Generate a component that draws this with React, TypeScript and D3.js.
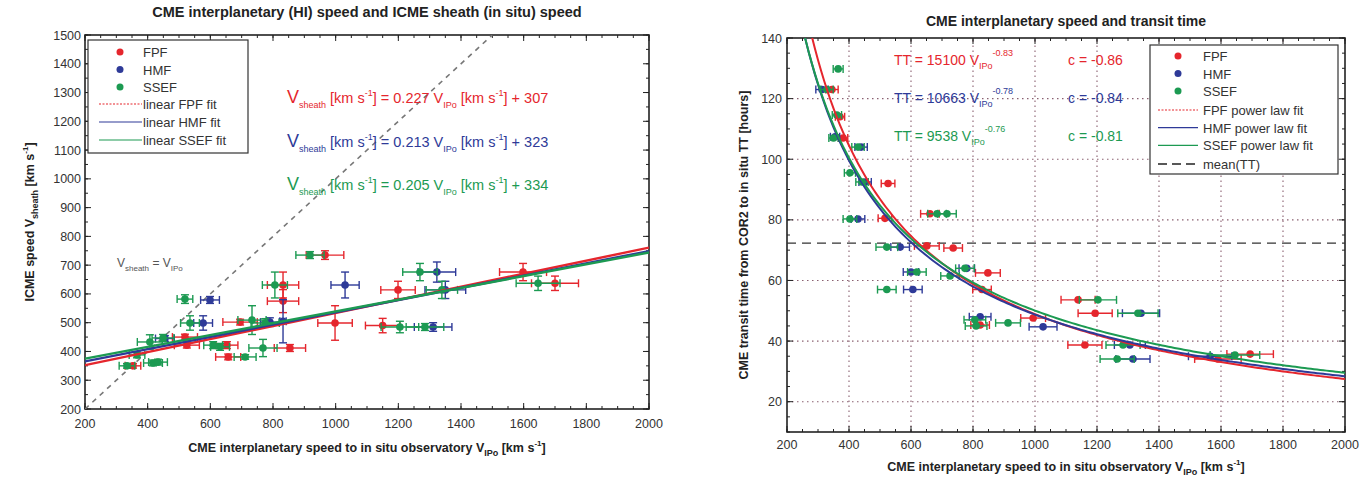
import React from 'react';
import * as d3 from 'd3';

const seriesNames = ['FPF', 'HMF', 'SSEF'];
const seriesColors = ['#e5262d', '#2e3a98', '#1c9a52'];

// left panel: [V_IPo, V_sheath, xerr, yerr]
const fpfSheath = [
  [353, 350, 25, 8], [519, 450, 40, 10], [525, 422, 40, 10], [653, 422, 35, 12],
  [657, 381, 40, 10], [695, 502, 55, 10], [832, 631, 50, 45], [832, 575, 50, 40],
  [854, 412, 50, 12], [966, 735, 60, 15], [998, 499, 55, 60], [1150, 490, 55, 25],
  [1199, 614, 55, 30], [1598, 676, 75, 30], [1700, 637, 75, 25],
];
const hmfSheath = [
  [455, 445, 30, 10], [599, 579, 30, 12], [577, 499, 30, 25], [790, 502, 30, 15],
  [832, 505, 10, 75], [1030, 631, 45, 45], [1323, 676, 60, 35], [1350, 614, 65, 30],
  [1311, 485, 60, 15],
];
const ssefSheath = [
  [334, 350, 25, 8], [366, 388, 25, 10], [417, 360, 30, 10], [433, 363, 30, 10],
  [407, 433, 40, 25], [449, 447, 35, 12], [519, 582, 25, 15], [535, 499, 30, 25],
  [609, 422, 30, 12], [631, 416, 30, 12], [711, 381, 35, 8], [733, 509, 45, 50],
  [775, 499, 45, 15], [768, 412, 45, 30], [806, 631, 40, 45], [918, 735, 45, 12],
  [1205, 485, 60, 20], [1269, 676, 55, 30], [1285, 485, 60, 12], [1339, 614, 50, 30],
  [1646, 637, 70, 25],
];
const sheathSlopes = [0.227, 0.213, 0.205];
const sheathIntercepts = [307, 323, 334];

// right panel: [V_IPo, TT, xerr]
const fpfTransit = [
  [345, 123, 20], [371, 114, 15], [381, 107, 15], [526, 92, 22], [516, 80.5, 22],
  [661, 82, 30], [651, 71.4, 40], [736, 70.7, 30], [848, 62.5, 40], [829, 57, 30],
  [823, 45.3, 30], [994, 47.6, 40], [1139, 53.6, 55], [1194, 49.2, 55], [1161, 38.7, 55],
  [1590, 34.1, 75], [1694, 35.7, 75],
];
const hmfTransit = [
  [313, 123, 20], [355, 107.4, 15], [439, 104, 20], [452, 92.5, 20], [429, 80.3, 22],
  [565, 71, 30], [600, 62.8, 25], [606, 57, 30], [780, 64, 25], [823, 48, 35],
  [1026, 44.7, 45], [1342, 49.2, 60], [1306, 38.7, 50], [1316, 34.1, 55], [1565, 35, 70],
];
const ssefTransit = [
  [365, 129.8, 16], [329, 123, 20], [361, 114.6, 15], [350, 107, 15], [429, 104, 20],
  [403, 95.5, 18], [442, 92.5, 20], [403, 80.3, 22], [684, 82, 30], [716, 82, 30],
  [522, 71, 35], [619, 62.8, 30], [726, 61.5, 30], [774, 64, 30], [522, 57, 30],
  [806, 47, 35], [810, 45, 35], [913, 46, 40], [1203, 53.6, 60], [1332, 49.2, 65],
  [1284, 38.7, 55], [1265, 34.1, 55], [1645, 35.4, 80],
];
const transitCoef = [15100, 10663, 9538];
const transitExp = [-0.83, -0.78, -0.76];
const transitCorr = [-0.86, -0.84, -0.81];
const meanTT = 72.3;

const speedTicks = [200, 400, 600, 800, 1000, 1200, 1400, 1600, 1800, 2000];
const sheathTicks = [200, 300, 400, 500, 600, 700, 800, 900, 1000, 1100, 1200, 1300, 1400, 1500];
const ttTicks = [20, 40, 60, 80, 100, 120, 140];

const font = '"Liberation Sans", Arial, Helvetica, sans-serif';

const xL = d3.scaleLinear().domain([200, 2000]).range([85, 649]);
const yL = d3.scaleLinear().domain([200, 1500]).range([409, 35]);
const xR = d3.scaleLinear().domain([200, 2000]).range([787, 1345]);
const yR = d3.scaleLinear().domain([10, 140]).range([432, 38]);

function Frame({ x, y, minorX, minorY, grid }) {
  const [x0, x1] = x.range();
  const [y0, y1] = y.range();
  const xMinor = d3.range(x.domain()[0], x.domain()[1] + 1, minorX);
  const yMinor = d3.range(y.domain()[0], y.domain()[1] + 0.01, minorY);
  const xMajor = x.ticks(9);
  const yMajor = grid ? ttTicks : sheathTicks;
  return (
    <g stroke="#222" fill="none">
      {grid && xMajor.filter(v => v > 200 && v < 2000).map(v => (
        <line key={'gx' + v} x1={x(v)} x2={x(v)} y1={y0} y2={y1} stroke="#8a6070" strokeWidth={1.1} strokeDasharray="1.5,3.5" />
      ))}
      {grid && yMajor.filter(v => v < 140).map(v => (
        <line key={'gy' + v} x1={x0} x2={x1} y1={y(v)} y2={y(v)} stroke="#8a6070" strokeWidth={1.1} strokeDasharray="1.5,3.5" />
      ))}
      {xMinor.map(v => (
        <g key={'mx' + v}>
          <line x1={x(v)} x2={x(v)} y1={y0} y2={y0 - 3} />
          <line x1={x(v)} x2={x(v)} y1={y1} y2={y1 + 3} />
        </g>
      ))}
      {yMinor.map(v => (
        <g key={'my' + v}>
          <line x1={x0} x2={x0 + 3} y1={y(v)} y2={y(v)} />
          <line x1={x1} x2={x1 - 3} y1={y(v)} y2={y(v)} />
        </g>
      ))}
      {xMajor.map(v => (
        <g key={'Mx' + v}>
          <line x1={x(v)} x2={x(v)} y1={y0} y2={y0 - 6} />
          <line x1={x(v)} x2={x(v)} y1={y1} y2={y1 + 6} />
        </g>
      ))}
      {yMajor.map(v => (
        <g key={'My' + v}>
          <line x1={x0} x2={x0 + 6} y1={y(v)} y2={y(v)} />
          <line x1={x1} x2={x1 - 6} y1={y(v)} y2={y(v)} />
        </g>
      ))}
      <rect x={x0} y={y1} width={x1 - x0} height={y0 - y1} strokeWidth={1.6} />
    </g>
  );
}

function ErrPoint({ cx, cy, dx, dy, color }) {
  const cap = 4;
  return (
    <g stroke={color} strokeWidth={1.4} fill="none">
      <line x1={cx - dx} x2={cx + dx} y1={cy} y2={cy} />
      <line x1={cx - dx} x2={cx - dx} y1={cy - cap} y2={cy + cap} />
      <line x1={cx + dx} x2={cx + dx} y1={cy - cap} y2={cy + cap} />
      {dy > 0 && (
        <g>
          <line x1={cx} x2={cx} y1={cy - dy} y2={cy + dy} />
          <line x1={cx - cap} x2={cx + cap} y1={cy - dy} y2={cy - dy} />
          <line x1={cx - cap} x2={cx + cap} y1={cy + dy} y2={cy + dy} />
        </g>
      )}
      <circle cx={cx} cy={cy} r={3.8} fill={color} stroke="none" />
    </g>
  );
}

export default function App() {
  const sheathData = [fpfSheath, hmfSheath, ssefSheath];
  const transitData = [fpfTransit, hmfTransit, ssefTransit];
  const speeds = d3.range(200, 2001, 10);

  const sheathLine = (i) => d3.line().x(d => xL(d)).y(d => yL(sheathSlopes[i] * d + sheathIntercepts[i]))([200, 2000]);
  const ttLine = (i) => d3.line().x(d => xR(d)).y(d => yR(transitCoef[i] * Math.pow(d, transitExp[i])))(speeds);

  const fitOrder = [0, 1, 2];

  return (
    <svg width={1361} height={479} style={{ position: 'absolute', left: 0, top: 0, background: '#fff' }} fontFamily={font}>
      <defs>
        <clipPath id="clipL"><rect x={85} y={35} width={564} height={374} /></clipPath>
        <clipPath id="clipR"><rect x={787} y={38} width={558} height={394} /></clipPath>
      </defs>

      {/* ---------- left panel ---------- */}
      <text x={367} y={17} textAnchor="middle" fontWeight="bold" fontSize={14.5} fill="#222">CME interplanetary (HI) speed and ICME sheath (in situ) speed</text>
      <Frame x={xL} y={yL} minorX={50} minorY={50} grid={false} />
      {speedTicks.map(v => (
        <text key={'lx' + v} x={xL(v)} y={428} textAnchor="middle" fontSize={12.5} fill="#333">{v}</text>
      ))}
      {sheathTicks.map(v => (
        <text key={'ly' + v} x={81} y={yL(v) + 4.5} textAnchor="end" fontSize={12.5} fill="#333">{v}</text>
      ))}
      <text x={367} y={452} textAnchor="middle" fontWeight="bold" fontSize={12.5} fill="#222">
        CME interplanetary speed to in situ observatory  V<tspan fontSize={9} dy={4}>IPo</tspan><tspan dy={-4}> [km s</tspan><tspan fontSize={8} dy={-6}>-1</tspan><tspan dy={6}>]</tspan>
      </text>
      <text transform="translate(34,222) rotate(-90)" textAnchor="middle" fontWeight="bold" fontSize={12.5} fill="#222">
        ICME speed V<tspan fontSize={9} dy={4}>sheath</tspan><tspan dy={-4}> [km s</tspan><tspan fontSize={8} dy={-6}>-1</tspan><tspan dy={6}>]</tspan>
      </text>

      <g clipPath="url(#clipL)">
        <line x1={xL(200)} y1={yL(200)} x2={xL(1500)} y2={yL(1500)} stroke="#777" strokeWidth={1.6} strokeDasharray="5,5" />
        {sheathData.map((arr, i) => arr.map((d, j) => (
          <ErrPoint key={'ls' + i + '-' + j} cx={xL(d[0])} cy={yL(d[1])} dx={xL(d[0] + d[2]) - xL(d[0])} dy={yL(d[1]) - yL(d[1] + d[3])} color={seriesColors[i]} />
        )))}
        {fitOrder.map(i => (
          <path key={'lf' + i} d={sheathLine(i)} stroke={seriesColors[i]} strokeWidth={2.4} fill="none" />
        ))}
      </g>
      <text x={117} y={267} fontSize={12} fill="#555">
        V<tspan fontSize={8} dy={4}>sheath</tspan><tspan dy={-4}> = V</tspan><tspan fontSize={8} dy={4}>IPo</tspan>
      </text>

      {[103, 147, 190].map((yy, i) => (
        <text key={'le' + i} x={287} y={yy} fontSize={14.5} fill={seriesColors[i]}>
          <tspan fontSize={18}>V</tspan><tspan fontSize={9} dy={5}>sheath</tspan><tspan dy={-5}> [km s</tspan><tspan fontSize={9} dy={-7}>-1</tspan><tspan dy={7}>] = {sheathSlopes[i].toFixed(3)} V</tspan><tspan fontSize={9} dy={5}>IPo</tspan><tspan dy={-5}> [km s</tspan><tspan fontSize={9} dy={-7}>-1</tspan><tspan dy={7}>] + {sheathIntercepts[i]}</tspan>
        </text>
      ))}

      <g>
        <rect x={88} y={40} width={160} height={113} fill="#fff" stroke="#333" strokeWidth={1.2} />
        {seriesNames.map((s, i) => (
          <g key={'lla' + i}>
            <circle cx={120} cy={52 + i * 17.5} r={3.5} fill={seriesColors[i]} />
            <text x={143} y={57 + i * 17.5} fontSize={13} fill="#333">{s}</text>
          </g>
        ))}
        {seriesNames.map((s, i) => (
          <g key={'llb' + i}>
            <line x1={99} x2={142} y1={104 + i * 18} y2={104 + i * 18} stroke={seriesColors[i]} strokeWidth={1.2} strokeDasharray={i === 0 ? '2,1.5' : undefined} />
            <text x={143} y={109 + i * 18} fontSize={13} fill="#333">linear {s} fit</text>
          </g>
        ))}
      </g>

      {/* ---------- right panel ---------- */}
      <text x={1066} y={26} textAnchor="middle" fontWeight="bold" fontSize={14} fill="#222">CME interplanetary speed and transit time</text>
      <Frame x={xR} y={yR} minorX={50} minorY={5} grid={true} />
      {speedTicks.map(v => (
        <text key={'rx' + v} x={xR(v)} y={449} textAnchor="middle" fontSize={12.5} fill="#333">{v}</text>
      ))}
      {ttTicks.map(v => (
        <text key={'ry' + v} x={782} y={yR(v) + 4.5} textAnchor="end" fontSize={12.5} fill="#333">{v}</text>
      ))}
      <text x={1066} y={471} textAnchor="middle" fontWeight="bold" fontSize={12.5} fill="#222">
        CME interplanetary speed to in situ observatory V<tspan fontSize={9} dy={4}>IPo</tspan><tspan dy={-4}> [km s</tspan><tspan fontSize={8} dy={-6}>-1</tspan><tspan dy={6}>]</tspan>
      </text>
      <text transform="translate(748,235) rotate(-90)" textAnchor="middle" fontWeight="bold" fontSize={12.5} fill="#222">
        CME transit time from COR2 to in situ TT [hours]
      </text>

      <g clipPath="url(#clipR)">
        <line x1={xR(200)} x2={xR(2000)} y1={yR(meanTT)} y2={yR(meanTT)} stroke="#333" strokeWidth={1.3} strokeDasharray="9,6" />
        {transitData.map((arr, i) => arr.map((d, j) => (
          <ErrPoint key={'rs' + i + '-' + j} cx={xR(d[0])} cy={yR(d[1])} dx={xR(d[0] + d[2]) - xR(d[0])} dy={0} color={seriesColors[i]} />
        )))}
        {fitOrder.map(i => (
          <path key={'rf' + i} d={ttLine(i)} stroke={seriesColors[i]} strokeWidth={2} fill="none" />
        ))}
      </g>

      {[65, 103, 141].map((yy, i) => (
        <g key={'re' + i} fill={seriesColors[i]}>
          <text x={894} y={yy} fontSize={14}>
            TT = {transitCoef[i]} V<tspan fontSize={9} dy={4}>IPo</tspan><tspan fontSize={9} dy={-13}>{transitExp[i].toFixed(2)}</tspan>
          </text>
          <text x={1068} y={yy} fontSize={14}>c = {transitCorr[i].toFixed(2)}</text>
        </g>
      ))}

      <g>
        <rect x={1150} y={45} width={188} height={129} fill="#fff" stroke="#333" strokeWidth={1.2} />
        {seriesNames.map((s, i) => (
          <g key={'rla' + i}>
            <circle cx={1178} cy={56 + i * 17.5} r={3.5} fill={seriesColors[i]} />
            <text x={1203} y={61 + i * 17.5} fontSize={13} fill="#333">{s}</text>
          </g>
        ))}
        {seriesNames.map((s, i) => (
          <g key={'rlb' + i}>
            <line x1={1158} x2={1198} y1={110 + i * 17.7} y2={110 + i * 17.7} stroke={seriesColors[i]} strokeWidth={1.2} strokeDasharray={i === 0 ? '2,1.5' : undefined} />
            <text x={1203} y={115 + i * 17.7} fontSize={13} fill="#333">{s} power law fit</text>
          </g>
        ))}
        <line x1={1158} x2={1198} y1={164} y2={164} stroke="#222" strokeWidth={1.5} strokeDasharray="9,5" />
        <text x={1203} y={169} fontSize={13} fill="#333">mean(TT)</text>
      </g>
    </svg>
  );
}
